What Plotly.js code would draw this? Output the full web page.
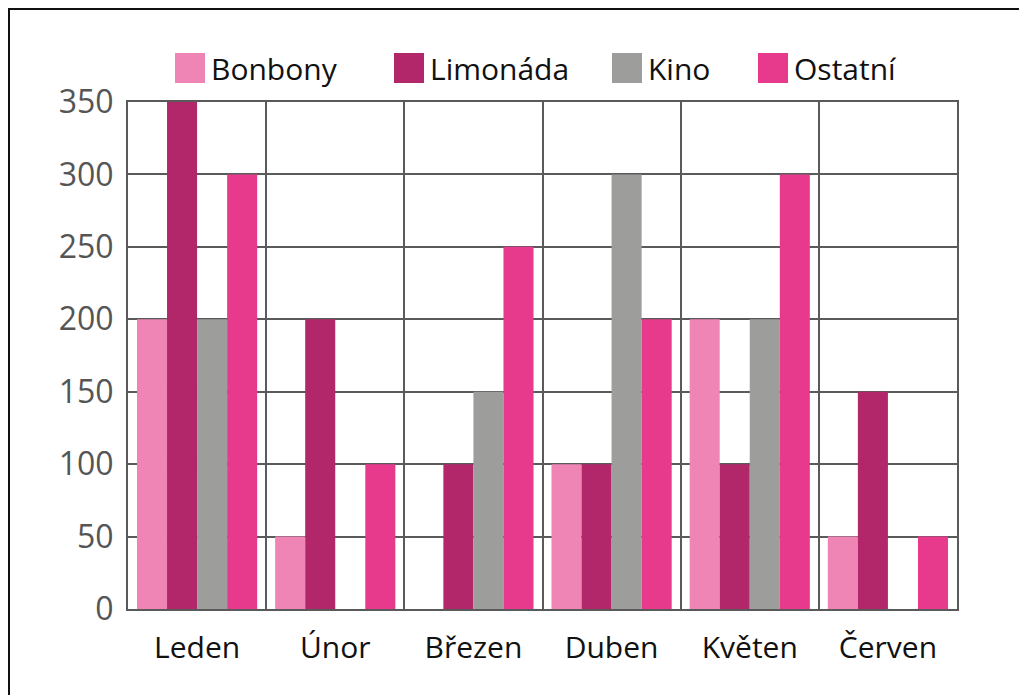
<!DOCTYPE html>
<html>
<head>
<meta charset="utf-8">
<script src="https://cdn.plot.ly/plotly-3.0.1.min.js"></script>
<style>
  html, body { margin:0; padding:0; background:#fff; overflow:hidden; }
  #wrap { position:relative; width:1019px; height:695px; overflow:hidden; }
  #chart { position:absolute; left:0; top:0; width:1019px; height:695px; }
  #frame { position:absolute; left:8px; top:8px; width:1100px; height:800px; border:2px solid #111; box-sizing:border-box; pointer-events:none; }
</style>
</head>
<body>
<div id="wrap">
  <div id="chart"></div>
  <div id="frame"></div>
</div>
<script>
const months = ["Leden", "Únor", "Březen", "Duben", "Květen", "Červen"];
const seriesNames = ["Bonbony", "Limonáda", "Kino", "Ostatní"];
const bonbony  = [200, 50, 0, 100, 200, 50];
const limonada = [350, 200, 100, 100, 100, 150];
const kino     = [200, 0, 150, 300, 200, 0];
const ostatni  = [300, 100, 250, 200, 300, 50];
const yTicks = [0, 50, 100, 150, 200, 250, 300, 350];
const colors = ["#EF85B4", "#B2276A", "#9D9D9C", "#E83A8C"];

const values = [bonbony, limonada, kino, ostatni];
const FONT = "Open Sans, Noto Sans, sans-serif";

const traces = values.map((v, i) => ({
  type: "bar",
  name: seriesNames[i],
  x: months,
  y: v,
  marker: { color: colors[i], line: { width: 0 } },
  showlegend: false,
  hoverinfo: "x+y+name"
}));

// plot area in pixels
const W = 1019, H = 695;
const L = 128, R = 957, T = 102, B = 609;
const px2x = p => (p - L) / (R - L);
const px2y = p => (B - p) / (B - T);

// custom legend (large square swatches)
const legendLeft = [175, 394, 612, 758];
const shapes = [];
const annotations = [];
seriesNames.forEach((n, i) => {
  shapes.push({
    type: "rect", xref: "paper", yref: "paper",
    x0: px2x(legendLeft[i]), x1: px2x(legendLeft[i] + 30),
    y0: px2y(83), y1: px2y(53),
    fillcolor: colors[i], line: { width: 0 }
  });
  annotations.push({
    xref: "paper", yref: "paper",
    x: px2x(legendLeft[i] + 34), y: px2y(68),
    xanchor: "left", yanchor: "middle",
    text: n, showarrow: false,
    font: { family: FONT, size: 30, color: "#111" }
  });
});

const layout = {
  width: W, height: H,
  margin: { l: L, r: W - R, t: T, b: H - B },
  paper_bgcolor: "#fff",
  plot_bgcolor: "#fff",
  barmode: "group",
  bargap: 0.13,
  bargroupgap: 0,
  showlegend: false,
  xaxis: {
    type: "category",
    tickson: "boundaries",
    showgrid: true,
    gridcolor: "#5a5a5a",
    gridwidth: 2,
    showline: true, mirror: true,
    linecolor: "#5a5a5a", linewidth: 2,
    ticks: "",
    ticklabelstandoff: 11,
    tickfont: { family: FONT, size: 30, color: "#111" }
  },
  yaxis: {
    range: [0, 350],
    tickvals: yTicks,
    ticktext: yTicks.map(String),
    showgrid: true,
    gridcolor: "#5a5a5a",
    gridwidth: 2,
    zeroline: false,
    showline: true, mirror: true,
    linecolor: "#5a5a5a", linewidth: 2,
    ticks: "",
    ticklabelstandoff: 6,
    tickfont: { family: FONT, size: 32, color: "#555" }
  },
  shapes: shapes,
  annotations: annotations
};

Plotly.newPlot("chart", traces, layout, { displayModeBar: false, staticPlot: true });
</script>
</body>
</html>
